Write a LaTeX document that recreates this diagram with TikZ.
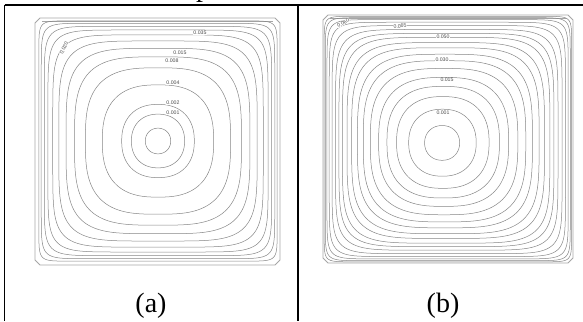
\documentclass[tikz,border=0pt]{standalone}
\usepackage{fontspec}
\setmainfont{Liberation Serif}
\newfontfamily\lblfont{Liberation Sans}

\begin{document}
\begin{tikzpicture}[x=1pt,y=-1pt,
  rule/.style={line width=1.3pt},
  wall/.style={draw=black!35,line width=0.8pt},
  iso/.style={draw=black!48,line width=0.5pt},
  isolbl/.style={font=\lblfont\fontsize{5.2}{5.5}\selectfont,fill=white,inner sep=0.3pt,text=black!70},
  caption/.style={font=\fontsize{28}{30}\selectfont,inner sep=0pt}]
\useasboundingbox (0,0) rectangle (583,321);
%\draw[red] (0,0) rectangle (583,321);

% table rules
\draw[rule] (4.5,5) -- (583,5);
\draw[rule] (4.5,5) -- (4.5,321);
\draw[rule] (298,5) -- (298,321);
\node[caption,anchor=base] (cut) at (203,-3) {p};

% (a) cavity walls
\draw[wall] (35,23) -- (40,18) -- (275,18) -- (280,23) -- (280,260) -- (275,265) -- (40,265) -- (35,260) -- cycle;
\draw[wall] (42,21.5) -- (273,21.5);
% (a) streamlines
\foreach \s in {0.105,0.22,0.30,0.46,0.60,0.69,0.76,0.82,0.87,0.91,0.94,0.965,0.985}{
  \pgfmathsetmacro\pe{2+0.7*\s/(1.02-\s)}
  \draw[iso] plot[domain=1.25:358.75,samples=144]
    ({158+121*\s*cos(\x)*pow(abs(cos(\x)),2/\pe-1)},{141+122*\s*sin(\x)*pow(abs(sin(\x)),2/\pe-1)}) -- cycle;
}
\node[isolbl] (a035) at (200,33) {0.035};
\node[isolbl] (a015) at (180,53) {0.015};
\node[isolbl] (a008) at (172,61) {0.008};
\node[isolbl] (a004) at (173,83) {0.004};
\node[isolbl] (a002) at (173,103) {0.002};
\node[isolbl] (a001) at (173,113) {0.001};
\node[isolbl,rotate=65] (a020) at (64,48) {0.020};

% (b) cavity walls
\draw[wall] (323,20) -- (328,15) -- (568,15) -- (573,20) -- (573,258) -- (568,263) -- (328,263) -- (323,258) -- cycle;
\draw[wall] (330,18.5) -- (566,18.5);
% (b) streamlines
\foreach \s in {0.14,0.27,0.37,0.45,0.52,0.59,0.65,0.70,0.75,0.79,0.83,0.86,0.89,0.92,0.945,0.965,0.98,0.99}{
  \pgfmathsetmacro\pe{2+0.7*\s/(1.02-\s)}
  \pgfmathsetmacro\cx{442+6*\s*\s}
  \pgfmathsetmacro\cy{143-4*\s*\s}
  \draw[iso] plot[domain=1.25:358.75,samples=144]
    ({\cx+125*\s*cos(\x)*pow(abs(cos(\x)),2/\pe-1)},{\cy+124*\s*sin(\x)*pow(abs(sin(\x)),2/\pe-1)}) -- cycle;
}
\node[isolbl,rotate=30] (b060) at (343,23) {0.060};
\node[isolbl,rotate=8] (b065) at (400,26) {0.065};
\node[isolbl] (b050) at (443,37) {0.050};
\node[isolbl] (b030) at (442,60) {0.030};
\node[isolbl] (b015) at (447,80) {0.015};
\node[isolbl] (b001) at (443,113) {0.001};

% captions
\node[caption,anchor=base] (capa) at (151,312) {(a)};
\node[caption,anchor=base] (capb) at (443,312) {(b)};
\end{tikzpicture}
\end{document}
